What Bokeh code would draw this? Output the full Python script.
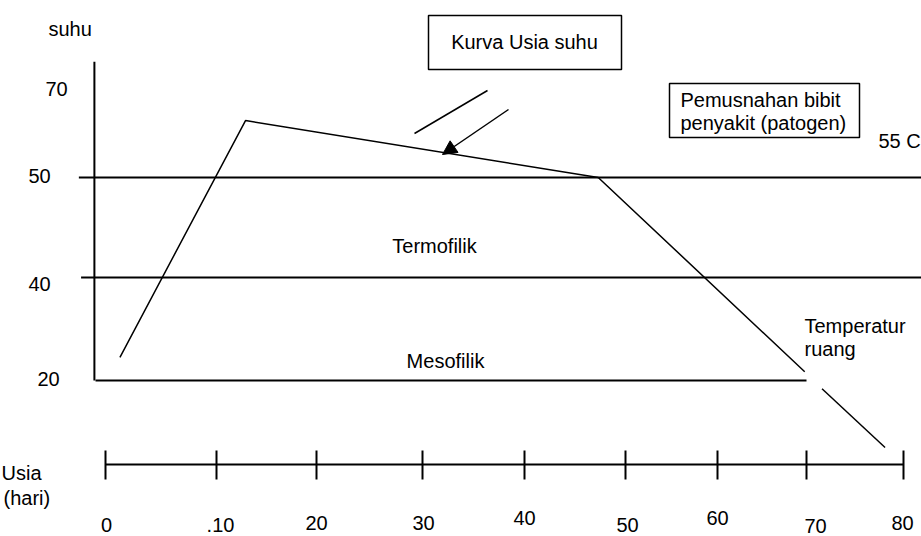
from bokeh.plotting import figure
from bokeh.models import Range1d, ColumnDataSource, LinearInterpolator, Arrow, NormalHead
from bokeh.transform import transform
from bokeh.core.properties import value
from bokeh.embed import file_html
from bokeh.resources import INLINE

# ---------------- data ----------------
DAY_TICKS = [0, 10, 20, 30, 40, 50, 60, 70, 80]
DAY_LABELS = ["0", ".10", "20", "30", "40", "50", "60", "70", "80"]
TEMP_TICKS = [70, 50, 40, 20]
TEMP_LABELS = ["70", "50", "40", "20"]

# temperature curve (day, temperature)
CURVE_DAY = [1.3, 12.9, 47.3, 69.8]
CURVE_TEMP = [24.5, 62.8, 50.0, 21.7]
TAIL_DAY = [71.6, 78.1]
TAIL_TEMP = [18.4, 7.0]

# zone boundary lines
BAND_TEMP = [50, 40, 20]
BAND_FROM_DAY = [-2.4, -2.2, -0.9]
BAND_TO_DAY = [83, 83, 70]
AXIS_DAY = -1.0
AXIS_TOP_TEMP = 76

# ---------------- drawing scale of the schematic (hand-drawn rulers) ----------------
RULER_DAY = [-10, 0, 10, 20, 30, 40, 50, 60, 70, 80, 90]
RULER_X = [-6, 105, 216, 316, 422, 524, 625, 717, 806, 903, 1000]
RULER_TEMP = [0, 20, 40, 50, 70, 90]
RULER_Y = [483, 380, 277, 177, 88, -1]

xmap = LinearInterpolator(x=RULER_DAY, y=RULER_X, clip=False)
ymap = LinearInterpolator(x=RULER_TEMP, y=RULER_Y, clip=False)

FONT = value("Liberation Sans")
FS = value("20px")
INK = "#000000"

p = figure(width=921, height=536, output_backend="svg", toolbar_location=None,
           x_range=Range1d(0, 921), y_range=Range1d(536, 0),
           x_axis_location=None, y_axis_location=None, min_border=0)
p.outline_line_color = None
p.background_fill_color = "white"
p.border_fill_color = "white"
p.grid.visible = False

# zone lines
band_src = ColumnDataSource(dict(t=BAND_TEMP, d0=BAND_FROM_DAY, d1=BAND_TO_DAY))
p.segment(x0=transform("d0", xmap), y0=transform("t", ymap),
          x1=transform("d1", xmap), y1=transform("t", ymap),
          source=band_src, line_color=INK, line_width=2)

# vertical temperature axis
ax_src = ColumnDataSource(dict(d=[AXIS_DAY], t0=[TEMP_TICKS[-1]], t1=[AXIS_TOP_TEMP]))
p.segment(x0=transform("d", xmap), y0=transform("t0", ymap),
          x1=transform("d", xmap), y1=transform("t1", ymap),
          source=ax_src, line_color=INK, line_width=2)

# temperature curve
curve_src = ColumnDataSource(dict(day=CURVE_DAY, temp=CURVE_TEMP))
p.line(x=transform("day", xmap), y=transform("temp", ymap), source=curve_src,
       line_color=INK, line_width=1.5)
tail_src = ColumnDataSource(dict(day=TAIL_DAY, temp=TAIL_TEMP))
p.line(x=transform("day", xmap), y=transform("temp", ymap), source=tail_src,
       line_color=INK, line_width=1.5)

# y labels
TEMP_LABEL_LEFT = [45, 28, 28, 37]
TEMP_LABEL_DY = [0, -2, 6, -2]
ylab_src = ColumnDataSource(dict(t=TEMP_TICKS, txt=TEMP_LABELS, lx=TEMP_LABEL_LEFT, dy=TEMP_LABEL_DY))
p.text(x="lx", y=transform("t", ymap), y_offset="dy", text="txt", source=ylab_src,
       text_font=FONT, text_font_size=FS, text_align="left", text_baseline="middle", text_color=INK)

# time line (Usia)
TIMELINE_Y = 464
tl_src = ColumnDataSource(dict(d0=[DAY_TICKS[0]], d1=[DAY_TICKS[-1]]))
p.segment(x0=transform("d0", xmap), y0=TIMELINE_Y, x1=transform("d1", xmap), y1=TIMELINE_Y,
          source=tl_src, line_color=INK, line_width=2)
tick_src = ColumnDataSource(dict(d=DAY_TICKS))
p.segment(x0=transform("d", xmap), y0=TIMELINE_Y - 14, x1=transform("d", xmap), y1=TIMELINE_Y + 15,
          source=tick_src, line_color=INK, line_width=2)

DAY_LABEL_DX = [1, 4, 0, 1, 0, 2, 0, 9, -1]
DAY_LABEL_Y = [524, 524, 522, 522, 517, 524, 517, 525, 522]
xlab_src = ColumnDataSource(dict(d=DAY_TICKS, txt=DAY_LABELS, dx=DAY_LABEL_DX, ly=DAY_LABEL_Y))
p.text(x=transform("d", xmap), x_offset="dx", y="ly", text="txt", source=xlab_src,
       text_font=FONT, text_font_size=FS, text_align="center", text_baseline="middle", text_color=INK)

def label(x, y, s, align="left"):
    p.text(x=[x], y=[y], text=[s], text_font=FONT, text_font_size=FS,
           text_align=align, text_baseline="middle", text_color=INK)

label(48, 28, "suhu")
label(1, 472, "Usia")
label(3, 497, "(hari)")
label(434, 245, "Termofilik", "center")
label(445, 360, "Mesofilik", "center")
label(878, 140, "55 C")
label(804, 325, "Temperatur")
label(804, 348, "ruang")

# boxes
p.quad(left=[428], right=[621], top=[15], bottom=[69], fill_color="white",
       line_color=INK, line_width=1.5)
label(524, 41, "Kurva Usia suhu", "center")
p.quad(left=[669], right=[859], top=[83], bottom=[137], fill_color="white",
       line_color=INK, line_width=1.5)
label(680, 99, "Pemusnahan bibit")
label(680, 122, "penyakit (patogen)")

# pointer lines
p.segment(x0=[414], y0=[133], x1=[487], y1=[90], line_color=INK, line_width=1.5)
p.add_layout(Arrow(x_start=508, y_start=109, x_end=442, y_end=154, line_color=INK, line_width=1.5,
                   end=NormalHead(size=14, fill_color=INK, line_color=INK)))

open("out.html", "w").write(file_html(p, INLINE))
